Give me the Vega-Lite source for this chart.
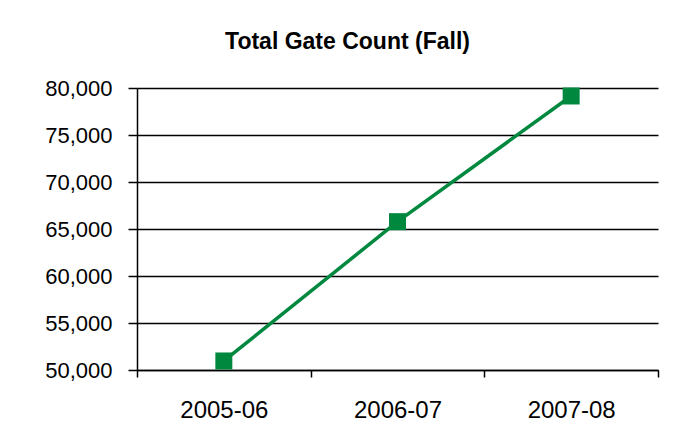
{
  "$schema": "https://vega.github.io/schema/vega-lite/v6.json",
  "autosize": {"type": "none"},
  "width": 521,
  "height": 282,
  "padding": {"left": 137, "top": 88, "right": 23, "bottom": 74},
  "background": "white",
  "title": {
    "text": "Total Gate Count (Fall)",
    "font": "Liberation Sans",
    "fontSize": 23,
    "fontWeight": "bold",
    "color": "black",
    "anchor": "middle",
    "baseline": "alphabetic",
    "dx": -50,
    "offset": 5
  },
  "config": {
    "view": {"stroke": null},
    "axis": {
      "labelFont": "Liberation Sans",
      "labelFontSize": 22,
      "labelColor": "black",
      "domainColor": "black",
      "domainWidth": 1.5,
      "tickColor": "black",
      "tickWidth": 1.5,
      "gridColor": "black",
      "gridWidth": 1.5,
      "gridOpacity": 1,
      "title": null
    }
  },
  "data": {
    "values": [
      {"year": "2005-06", "count": 50960},
      {"year": "2006-07", "count": 65780},
      {"year": "2007-08", "count": 79150}
    ]
  },
  "encoding": {
    "x": {
      "field": "year",
      "type": "ordinal",
      "scale": {"type": "band", "paddingInner": 0, "paddingOuter": 0},
      "axis": {
        "tickBand": "extent",
        "labelAngle": 0,
        "labelFontSize": 24,
        "tickSize": 7,
        "labelPadding": 40,
        "labelBaseline": "alphabetic",
        "grid": false
      }
    },
    "y": {
      "field": "count",
      "type": "quantitative",
      "scale": {"domain": [50000, 80000], "nice": false, "zero": false},
      "axis": {
        "values": [50000, 55000, 60000, 65000, 70000, 75000, 80000],
        "format": ",.0f",
        "tickSize": 9,
        "labelPadding": 16,
        "grid": true
      }
    }
  },
  "layer": [
    {
      "mark": {"type": "line", "color": "#00893E", "strokeWidth": 3.5}
    },
    {
      "mark": {"type": "point", "shape": "square", "filled": true, "size": 289, "color": "#00893E", "opacity": 1}
    }
  ]
}
